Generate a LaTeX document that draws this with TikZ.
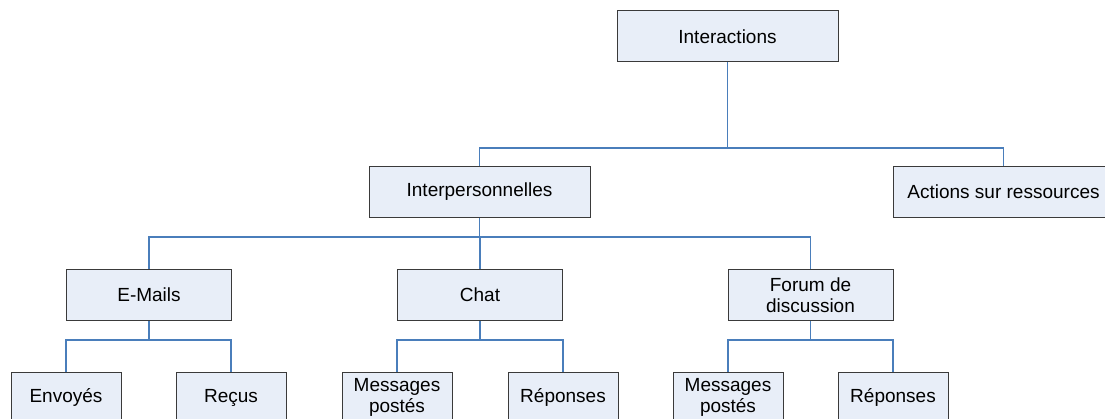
\documentclass[tikz,border=0pt]{standalone}
\usepackage{fontspec}
\setmainfont{Liberation Sans}
\definecolor{boxfill}{HTML}{E8EEF8}
\definecolor{boxline}{HTML}{3A3A3A}
\definecolor{linkblue}{HTML}{4A7EBB}
\begin{document}
\begin{tikzpicture}[x=1pt,y=-1pt,
  box/.style={draw=boxline,fill=boxfill,line width=1pt,inner sep=0pt,align=center,
    font=\fontsize{19}{21}\selectfont},
  wide/.style={box,minimum width=221pt,minimum height=51pt},
  mid/.style={box,minimum width=165pt,minimum height=51pt},
  small/.style={box,minimum width=110pt,minimum height=51pt},
  link/.style={draw=linkblue,line width=1.1pt}]
\useasboundingbox (0,0) rectangle (1105,419);
\node[wide] (inter) at (727.5,36.5) {Interactions};
\node[wide] (interp) at (479.5,192) {Interpersonnelles};
\node[wide] (actions) at (1003.5,192) {Actions sur ressources};
\node[mid] (email) at (149,295) {E-Mails};
\node[mid] (chat) at (480,295) {Chat};
\node[mid] (forum) at (810.5,295) {Forum de\\discussion};
\node[small] (env) at (66,397.5) {Envoyés};
\node[small] (recus) at (231,397.5) {Reçus};
\node[small] (cmsg) at (397,397.5) {Messages\\postés};
\node[small] (crep) at (563,397.5) {Réponses};
\node[small] (fmsg) at (728,397.5) {Messages\\postés};
\node[small] (frep) at (893,397.5) {Réponses};
\foreach \p/\c/\y in {inter/interp/148,inter/actions/148,
  interp/email/237,interp/chat/237,interp/forum/237,
  email/env/340,email/recus/340,chat/cmsg/340,chat/crep/340,
  forum/fmsg/340,forum/frep/340}
  \draw[link] (\p.south) -- (\p.south |- 0,\y) -| (\c.north);
\end{tikzpicture}
\end{document}
